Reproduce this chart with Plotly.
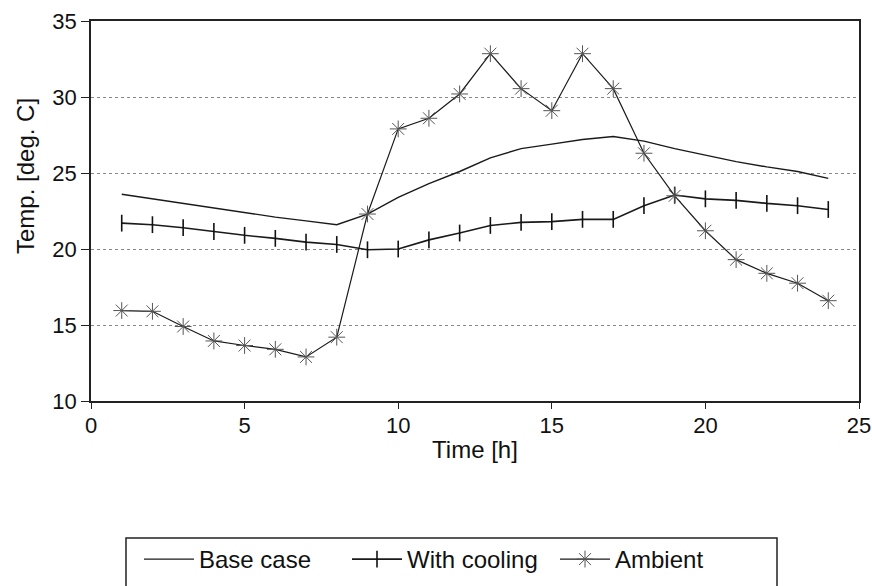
import plotly.graph_objects as go

hours = list(range(1, 25))
base_case = [23.6, 23.3, 23.0, 22.7, 22.4, 22.1, 21.85, 21.6, 22.3, 23.4, 24.3, 25.1,
             26.0, 26.6, 26.9, 27.2, 27.4, 27.1, 26.6, 26.15, 25.75, 25.4, 25.1, 24.65]
with_cooling = [21.7, 21.6, 21.4, 21.15, 20.9, 20.7, 20.45, 20.3, 19.95, 20.0, 20.6, 21.05,
                21.55, 21.75, 21.8, 21.95, 21.95, 22.85, 23.55, 23.3, 23.2, 23.0, 22.85, 22.6]
ambient = [15.95, 15.9, 14.9, 13.95, 13.65, 13.4, 12.9, 14.2, 22.3, 27.9, 28.6, 30.2,
           32.85, 30.55, 29.1, 32.85, 30.55, 26.3, 23.5, 21.2, 19.3, 18.4, 17.75, 16.6]

x_ticks = [0, 5, 10, 15, 20, 25]
y_ticks = [10, 15, 20, 25, 30, 35]

FONT = "Liberation Sans, Arial, Helvetica, sans-serif"
L, R, T, B = 91, 13, 21, 185
PW, PH = 872 - L - R, 586 - T - B

fig = go.Figure()
fig.add_trace(go.Scatter(x=hours, y=base_case, name="Base case", mode="lines",
                         line=dict(color="#1a1a1a", width=1.4)))
fig.add_trace(go.Scatter(x=hours, y=with_cooling, name="With cooling", mode="lines+markers",
                         line=dict(color="#1a1a1a", width=1.6),
                         marker=dict(symbol="line-ns", size=12,
                                     line=dict(color="#111111", width=1.6))))
fig.add_trace(go.Scatter(x=hours, y=ambient, name="Ambient", mode="lines+markers",
                         line=dict(color="#1a1a1a", width=1.2),
                         marker=dict(symbol="asterisk", size=14,
                                     line=dict(color="#555555", width=1))))

fig.update_layout(
    width=872, height=586,
    margin=dict(l=L, r=R, t=T, b=B),
    paper_bgcolor="white", plot_bgcolor="white",
    font=dict(family=FONT, size=22, color="#111111"),
    showlegend=True,
    legend=dict(orientation="h", xref="container", yref="container",
                x=139 / 872, y=1 - 537 / 586, xanchor="left", yanchor="top",
                font=dict(size=24), bgcolor="rgba(0,0,0,0)", borderwidth=0,
                itemwidth=50, entrywidth=143, entrywidthmode="pixels"),
    xaxis=dict(range=[0, 25], tickvals=x_ticks, ticks="outside", ticklen=6,
               tickwidth=1, tickcolor="#222", showgrid=False, zeroline=False,
               showline=True, linecolor="#222", linewidth=1.5, mirror=True,
               automargin=False, tickfont=dict(size=22), ticklabelstandoff=-2,
               title=dict(text="Time [h]", standoff=4, font=dict(size=24))),
    yaxis=dict(range=[10, 35], tickvals=y_ticks, ticks="outside", ticklen=8,
               tickwidth=1, tickcolor="#222", showgrid=True, gridcolor="#888888",
               griddash="dot", gridwidth=1, zeroline=False,
               showline=True, linecolor="#222", linewidth=1.5, mirror=True,
               automargin=False, tickfont=dict(size=22)),
    annotations=[dict(text="Temp. [deg. C]", textangle=-90, xref="paper", yref="paper",
                      x=(25 - L) / PW, y=(586 - B - 176) / PH, xanchor="center",
                      yanchor="middle", showarrow=False, font=dict(size=24))],
    shapes=[dict(type="rect", xref="paper", yref="paper",
                 x0=(126 - L) / PW, x1=(777 - L) / PW,
                 y0=-0.7, y1=(586 - B - 538) / PH,
                 line=dict(color="#222", width=1.5), fillcolor="rgba(0,0,0,0)")],
)

fig.write_html("out.html")
